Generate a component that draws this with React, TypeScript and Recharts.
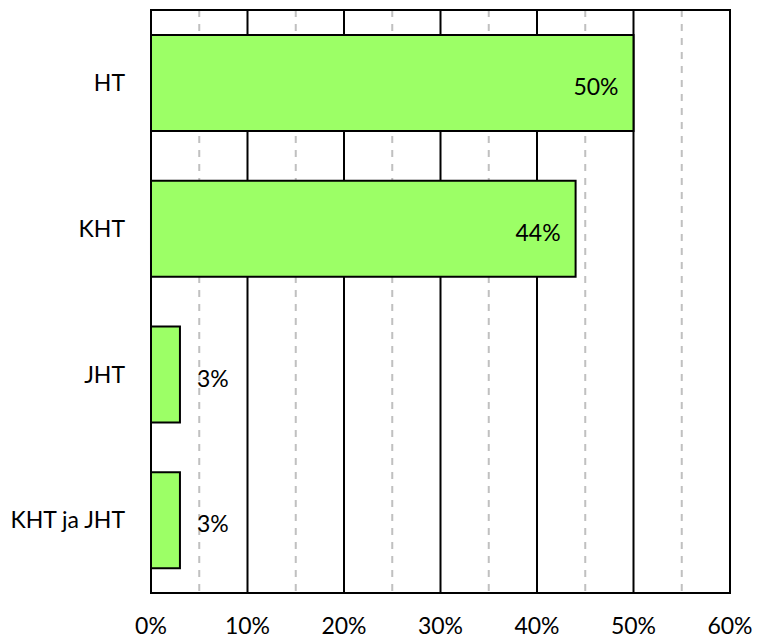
import { BarChart, Bar, XAxis, YAxis, CartesianGrid, LabelList, ReferenceArea } from "recharts";

const categories = ["HT", "KHT", "JHT", "KHT ja JHT"];
const shares = [50, 44, 3, 3];
const xTicks = [0, 5, 10, 15, 20, 25, 30, 35, 40, 45, 50, 55, 60];

const rows = categories.map((name, i) => ({ name, share: shares[i] }));

const FONT = "Lato, 'Noto Sans', sans-serif";

function gridLine(p: any) {
  const major = p.index % 2 === 0;
  return (
    <line
      key={p.key}
      x1={p.x1}
      y1={p.y1}
      x2={p.x2}
      y2={p.y2}
      stroke={major ? "#000" : "#c0c0c0"}
      strokeWidth={2}
      strokeDasharray={major ? undefined : "7 7"}
    />
  );
}

function shareLabel(p: any) {
  const { x, y, width, height, value } = p;
  const inside = value >= 10;
  return (
    <text
      x={inside ? x + width - 15 : x + width + 17}
      y={y + height / 2 + 3}
      textAnchor={inside ? "end" : "start"}
      dominantBaseline="central"
      fill="#000"
      fontSize={23}
      fontFamily={FONT}
    >
      {value}%
    </text>
  );
}

export default function App() {
  // pinned to the page corner so page pixels match chart pixels
  return (
    <div style={{ position: "absolute", left: 0, top: 0 }}>
      <BarChart
        width={758}
        height={640}
        data={rows}
        layout="vertical"
        margin={{ top: 10, right: 28, bottom: 0, left: 0 }}
        barCategoryGap={25}
      >
        <CartesianGrid horizontal={false} vertical={gridLine} />
        <XAxis
          type="number"
          domain={[0, 60]}
          ticks={xTicks}
          interval={0}
          height={47}
          tickSize={0}
          tickMargin={25}
          axisLine={false}
          tickFormatter={(v: number) => (v % 10 === 0 ? `${v}%` : "")}
          tick={{ fill: "#000", fontSize: 23, fontFamily: FONT }}
        />
        <YAxis
          type="category"
          dataKey="name"
          width={151}
          tickSize={0}
          tickMargin={26}
          axisLine={false}
          tick={{ fill: "#000", fontSize: 23, fontFamily: FONT }}
        />
        <Bar dataKey="share" fill="#9cff66" stroke="#000" strokeWidth={2} isAnimationActive={false}>
          <LabelList dataKey="share" content={shareLabel} />
        </Bar>
        <ReferenceArea x1={0} x2={60} fill="none" stroke="#000" strokeWidth={2} fillOpacity={0} ifOverflow="visible" />
      </BarChart>
    </div>
  );
}
